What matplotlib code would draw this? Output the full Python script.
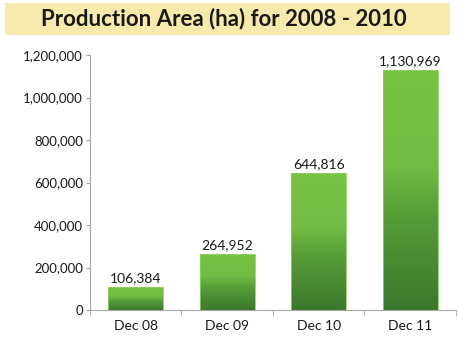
import matplotlib
matplotlib.use("Agg")
import matplotlib.pyplot as plt
import numpy as np
from matplotlib.colors import LinearSegmentedColormap
from matplotlib.ticker import FuncFormatter, FixedLocator

# Data
categories = ["Dec 08", "Dec 09", "Dec 10", "Dec 11"]
areas = [106384, 264952, 644816, 1130969]
value_labels = ["106,384", "264,952", "644,816", "1,130,969"]

plt.rcParams["font.family"] = ["Lato", "DejaVu Sans"]

fig = plt.figure(figsize=(4.6, 3.44), dpi=100)
fig.patch.set_facecolor("white")

# Title banner
fig.patches.append(plt.Rectangle((5 / 460, 1 - 35 / 344), 445 / 460, 32 / 344,
                                 transform=fig.transFigure, facecolor="#f8e9ad",
                                 edgecolor="none", zorder=0))
fig.text(224 / 460, 1 - 19 / 344, "Production Area (ha) for 2008 - 2010",
         ha="center", va="center", fontsize=16, fontweight="bold", color="#1a1a1a")

ax = fig.add_axes([90 / 460, 34 / 344, 366 / 460, 255 / 344])
ax.set_xlim(-0.5, len(categories) - 0.5)
ax.set_ylim(0, 1200000)

x = np.arange(len(categories))
bars = ax.bar(x, areas, width=0.6, color="none", edgecolor="none", zorder=2)

cmap = LinearSegmentedColormap.from_list(
    "greens", [(0.0, "#3c772c"), (0.4, "#579e39"), (0.6, "#72bc44"), (1.0, "#79c345")])
grad = np.linspace(0, 1, 256).reshape(-1, 1)
for rect in bars:
    x0, w, h = rect.get_x(), rect.get_width(), rect.get_height()
    im = ax.imshow(grad, cmap=cmap, origin="lower", aspect="auto",
                   extent=(x0, x0 + w, 0, h), zorder=2, interpolation="bilinear")
    im.set_clip_path(rect)
    ax.add_patch(plt.Rectangle((x0, 0), w, h, facecolor="none",
                               edgecolor="#8fcf63", linewidth=0.6, zorder=3))

for xi, v, lab in zip(x, areas, value_labels):
    ax.text(xi, v + 14000, lab, ha="center", va="bottom", fontsize=10, color="#1a1a1a")

ax.set_xlim(-0.5, len(categories) - 0.5)
ax.set_ylim(0, 1200000)

# Axes styling
for side in ["top", "right"]:
    ax.spines[side].set_visible(False)
for side in ["left", "bottom"]:
    ax.spines[side].set_color("#a6a6a6")
    ax.spines[side].set_linewidth(0.8)

ax.yaxis.set_major_locator(FixedLocator(np.arange(0, 1200001, 200000)))
ax.yaxis.set_major_formatter(FuncFormatter(lambda v, p: f"{int(v):,}"))
ax.tick_params(axis="y", length=3, color="#a6a6a6", labelsize=9.5, labelcolor="#1a1a1a", pad=2)

ax.set_xticks(x)
ax.set_xticklabels(categories)
ax.tick_params(axis="x", length=0, labelsize=10, labelcolor="#1a1a1a", pad=7)
ax.set_xticks(np.arange(-0.5, len(categories), 1.0), minor=True)
ax.tick_params(axis="x", which="minor", length=4, color="#a6a6a6")

fig.savefig("out.png", dpi=100, facecolor="white")
